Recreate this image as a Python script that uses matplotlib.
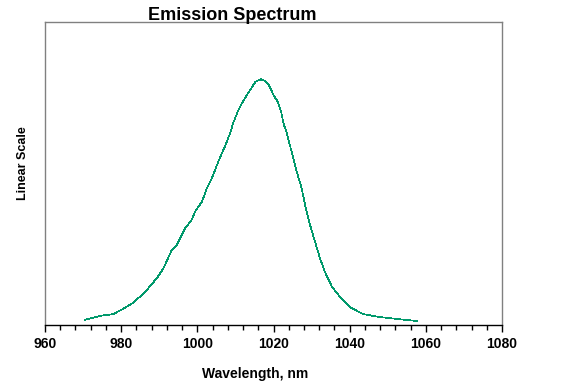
import matplotlib
matplotlib.use("Agg")
import matplotlib.pyplot as plt
from matplotlib.ticker import MultipleLocator

wavelength_nm = [970.5, 974.4, 977.9, 980.5, 983.1, 986.3, 989.4, 991.1, 993.3, 994.6,
                 996.8, 998.5, 999.4, 1001.2, 1002.5, 1003.8, 1005.5, 1007.3, 1008.6,
                 1009.4, 1010.8, 1011.7, 1013.0, 1014.3, 1015.3, 1016.7, 1017.8, 1018.8,
                 1020.0, 1021.1, 1022.0, 1022.6, 1023.5, 1024.3, 1025.2, 1026.1, 1027.4,
                 1028.3, 1029.6, 1030.9, 1032.2, 1033.5, 1035.4, 1037.5, 1040.1, 1043.5,
                 1048.0, 1052.4, 1057.7]
intensity = [0.017, 0.030, 0.036, 0.053, 0.073, 0.109, 0.155, 0.187, 0.248, 0.264,
             0.319, 0.347, 0.374, 0.407, 0.451, 0.484, 0.539, 0.591, 0.633,
             0.666, 0.710, 0.732, 0.759, 0.784, 0.803, 0.811, 0.805, 0.792,
             0.759, 0.737, 0.704, 0.666, 0.633, 0.594, 0.550, 0.506, 0.451,
             0.396, 0.330, 0.275, 0.220, 0.175, 0.125, 0.092, 0.059, 0.036,
             0.026, 0.020, 0.013]
x_ticks = [960, 980, 1000, 1020, 1040, 1060, 1080]

plt.rcParams['font.family'] = ['Liberation Sans', 'DejaVu Sans']

fig = plt.figure(figsize=(5.65, 3.88), dpi=100)
ax = fig.add_axes([45/565, 1-325/388, (502-45)/565, (325-22)/388])

ax.plot(wavelength_nm, intensity, color='#00996b', lw=0.5, antialiased=False)
ax.set_xlim(960, 1080)
ax.set_ylim(0, 1)
ax.set_xticks(x_ticks)
ax.set_xticklabels([str(t) for t in x_ticks], fontweight='bold', fontsize=10)
ax.xaxis.set_minor_locator(MultipleLocator(4))
ax.tick_params(axis='x', which='major', length=5, width=1, pad=4, color='black')
ax.tick_params(axis='x', which='minor', length=3.5, width=1, color='black')
ax.set_yticks([])

for s in ['top', 'left', 'right']:
    ax.spines[s].set_color('#808080')
    ax.spines[s].set_linewidth(1)
ax.spines['bottom'].set_color('black')
ax.spines['bottom'].set_linewidth(1)

fig.text(232.5/565, 1-20/388, 'Emission Spectrum', ha='center', va='baseline',
         fontsize=13, fontweight='bold')
fig.text(255.5/565, 1-374/388, 'Wavelength, nm', ha='center', va='center',
         fontsize=10, fontweight='bold')
fig.text(23/565, 1-163/388, 'Linear Scale', ha='center', va='center',
         rotation=90, fontsize=9, fontweight='bold')

fig.savefig('out.png', dpi=100)
